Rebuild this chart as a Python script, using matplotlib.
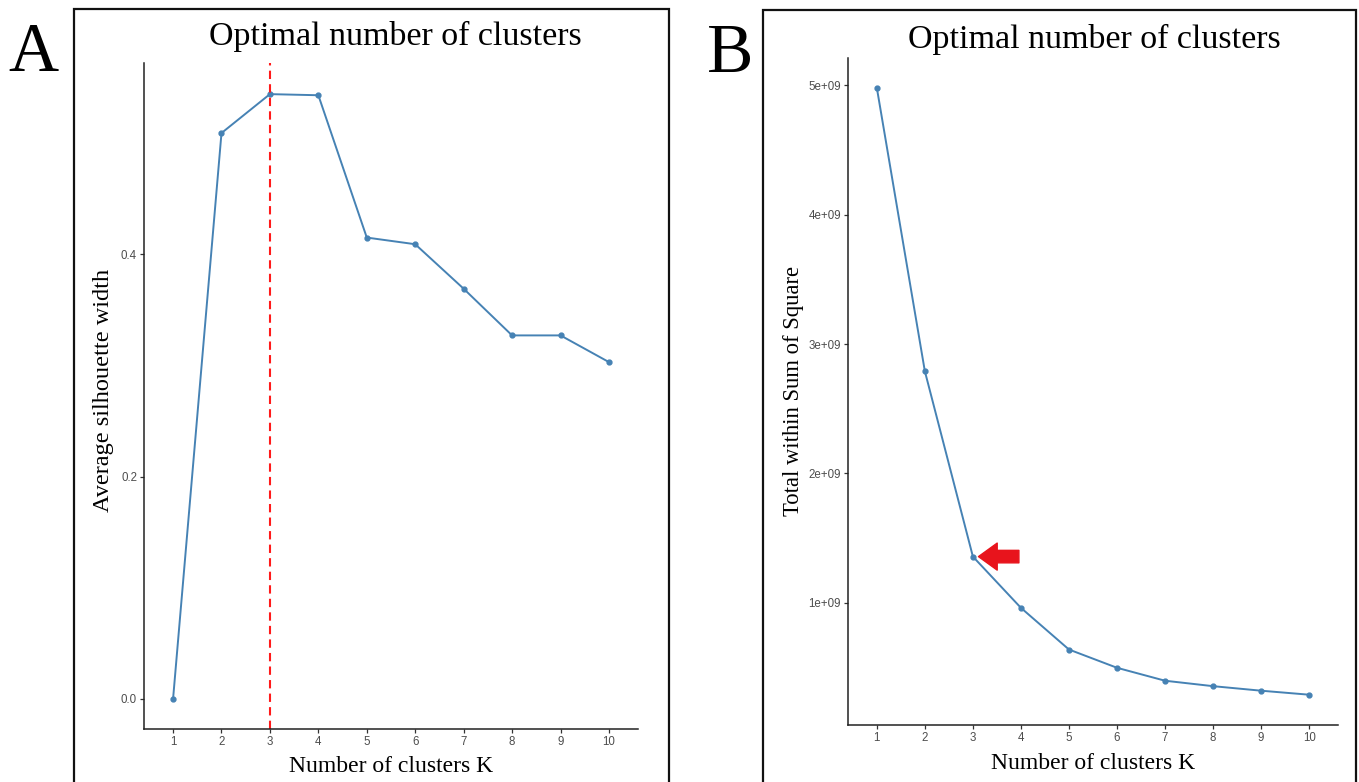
import matplotlib
matplotlib.use("Agg")
import matplotlib.pyplot as plt
from matplotlib.patches import Rectangle

# cluster counts and scores
k_values = [1, 2, 3, 4, 5, 6, 7, 8, 9, 10]
silhouette = [0.0, 0.509, 0.544, 0.543, 0.415, 0.409, 0.369, 0.327, 0.327, 0.303]
wss = [4.98e9, 2.79e9, 1.358e9, 0.962e9, 0.640e9, 0.499e9, 0.399e9, 0.357e9, 0.322e9, 0.291e9]
best_k = 3

sil_ticks = [0.0, 0.2, 0.4]
sil_ticklabels = ['0.0', '0.2', '0.4']
wss_ticks = [1e9, 2e9, 3e9, 4e9, 5e9]
wss_ticklabels = ['1e+09', '2e+09', '3e+09', '4e+09', '5e+09']

line_color = '#4682B4'
serif = 'Liberation Serif'
sans = 'Liberation Sans'

fig = plt.figure(figsize=(13.59, 7.82), dpi=100)
W, H = 1359, 782


def px_axes(left, top, right, bottom):
    return fig.add_axes([left / W, 1 - bottom / H, (right - left) / W, (bottom - top) / H])


def style_axes(ax):
    for side in ['top', 'right']:
        ax.spines[side].set_visible(False)
    for side in ['left', 'bottom']:
        ax.spines[side].set_linewidth(1.1)
        ax.spines[side].set_color('#222222')
    ax.tick_params(axis='both', length=3, width=0.9, color='#333333',
                   labelsize=8.3, labelcolor='#4D4D4D', pad=2)
    ax.set_xticks(k_values)
    ax.set_xticklabels([str(k) for k in k_values], fontfamily=sans)
    ax.set_xlim(0.4, 10.6)


# outer frames round each panel
for x0, x1, y0 in [(74, 669, 9), (763, 1356, 10)]:
    fig.add_artist(Rectangle((x0 / W, -0.05), (x1 - x0) / W, 1.05 - y0 / H,
                             transform=fig.transFigure, fill=False,
                             edgecolor='#111111', linewidth=1.6, clip_on=False))

# panel A: silhouette
axA = px_axes(144, 63, 638, 729)
axA.plot(k_values, silhouette, color=line_color, linewidth=1.4,
         marker='o', markersize=3.5)
axA.axvline(best_k, color='#FF1A1A', linestyle=(0, (4, 2.5)), linewidth=1.5)
axA.set_ylim(-0.027, 0.572)
axA.set_yticks(sil_ticks)
axA.set_yticklabels(sil_ticklabels, fontfamily=sans)
style_axes(axA)
axA.set_xlabel('Number of clusters K', fontfamily=serif, fontsize=17)
axA.xaxis.set_label_coords(0.5, -0.041)
axA.set_ylabel('Average silhouette width', fontfamily=serif, fontsize=17.5)
axA.yaxis.set_label_coords(-0.0607, 0.509)

# panel B: elbow
axB = px_axes(848, 58, 1338, 725)
axB.plot(k_values, wss, color=line_color, linewidth=1.4,
         marker='o', markersize=3.5)
axB.set_ylim(0.057e9, 5.21e9)
axB.set_yticks(wss_ticks)
axB.set_yticklabels(wss_ticklabels, fontfamily=sans)
style_axes(axB)
axB.set_xlabel('Number of clusters K', fontfamily=serif, fontsize=17)
axB.xaxis.set_label_coords(0.5, -0.042)
axB.set_ylabel('Total within Sum of Square', fontfamily=serif, fontsize=16.3)
axB.yaxis.set_label_coords(-0.0898, 0.5007)

# arrow pointing at the elbow
axB.annotate('', xy=(best_k, wss[best_k - 1]), xytext=(46, 0),
             textcoords='offset pixels',
             arrowprops=dict(arrowstyle='simple,head_length=0.9,head_width=1.3,tail_width=0.6',
                             color='#E8141C', shrinkA=0, shrinkB=4, mutation_scale=15))

# titles and panel letters
fig.text(395 / W, 1 - 45 / H, 'Optimal number of clusters', fontfamily=serif,
         fontsize=24.5, ha='center', va='baseline')
fig.text(1094 / W, 1 - 48 / H, 'Optimal number of clusters', fontfamily=serif,
         fontsize=24.5, ha='center', va='baseline')
fig.text(33 / W, 1 - 71 / H, 'A', fontfamily=serif, fontsize=50,
         ha='center', va='baseline')
fig.text(730 / W, 1 - 72 / H, 'B', fontfamily=serif, fontsize=50,
         ha='center', va='baseline')

fig.savefig('out.png', dpi=100)
